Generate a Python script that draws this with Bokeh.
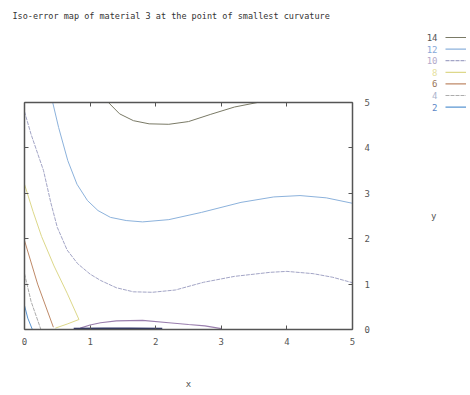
from bokeh.plotting import figure
from bokeh.models import LinearAxis, FixedTicker, Label, Arrow, Range1d
from bokeh.embed import file_html
from bokeh.resources import INLINE

title = "Iso-error map of material 3 at the point of smallest curvature"
ticks = [0, 1, 2, 3, 4, 5]
levels = [14, 12, 10, 8, 6, 4, 2]

# contour curves (x, y)
c14_x = [1.28, 1.45, 1.66, 1.9, 2.2, 2.5, 2.84, 3.2, 3.55]
c14_y = [5.0, 4.75, 4.6, 4.53, 4.52, 4.58, 4.74, 4.9, 5.0]
c12_x = [0.43, 0.52, 0.66, 0.8, 0.96, 1.12, 1.31, 1.55, 1.8, 2.2, 2.7, 3.3, 3.8, 4.2, 4.6, 5.0]
c12_y = [5.0, 4.45, 3.72, 3.2, 2.84, 2.62, 2.47, 2.4, 2.37, 2.42, 2.58, 2.8, 2.92, 2.95, 2.9, 2.78]
c10_x = [0.0, 0.1, 0.29, 0.4, 0.5, 0.65, 0.81, 1.0, 1.16, 1.4, 1.66, 1.95, 2.3, 2.73, 3.2, 3.75, 4.0, 4.4, 4.7, 5.0]
c10_y = [4.8, 4.3, 3.5, 2.8, 2.25, 1.75, 1.45, 1.22, 1.08, 0.92, 0.83, 0.82, 0.87, 1.04, 1.17, 1.26, 1.28, 1.23, 1.15, 1.03]
c10b_x = [0.85, 1.0, 1.16, 1.4, 1.8, 2.2, 2.5, 2.75, 3.0]
c10b_y = [0.03, 0.1, 0.15, 0.19, 0.2, 0.15, 0.11, 0.08, 0.02]
c8_x = [0.0, 0.13, 0.26, 0.45, 0.65, 0.83, 0.65, 0.47]
c8_y = [3.2, 2.6, 2.05, 1.4, 0.8, 0.22, 0.12, 0.03]
c6_x = [0.0, 0.2, 0.44]
c6_y = [1.96, 1.0, 0.05]
c4_x = [0.0, 0.1, 0.25]
c4_y = [1.23, 0.62, 0.0]
c2_x = [0.0, 0.05, 0.12]
c2_y = [0.53, 0.25, 0.0]
c2b_x = [0.75, 1.2, 1.6, 2.1]
c2b_y = [0.012, 0.02, 0.02, 0.012]

line_colors = {14: "#7a7a66", 12: "#8cb2dc", 10: "#a3a5c6", 8: "#ddd88a",
               6: "#bf8a68", 4: "#acacac", 2: "#5a96d2"}
label_colors = {14: "#555555", 12: "#86a8d8", 10: "#b3aacb", 8: "#e6dfa0",
                6: "#9a7458", 4: "#aab4cc", 2: "#5b86c6"}
dashes = {14: "solid", 12: "solid", 10: "4 1", 8: "solid", 6: "solid", 4: "4 1", 2: "solid"}

FONT = "DejaVu Sans Mono"
GRAY = "#555555"

# canvas geometry (px): plot box position inside the canvas
W, H = 466, 390
BOX_L, BOX_R, BOX_T, BOX_B = 24, 352, 102, 329
sx = (BOX_R - BOX_L) / 5.0
sy = (BOX_B - BOX_T) / 5.0
x_range = Range1d(-BOX_L / sx, (W - BOX_L) / sx)
y_range = Range1d((BOX_B - H) / sy, BOX_B / sy)

p = figure(width=W, height=H, x_range=x_range, y_range=y_range, title=None,
           min_border=0, x_axis_location=None, y_axis_location=None,
           output_backend="svg", toolbar_location=None)
p.grid.visible = False
p.outline_line_color = None
p.background_fill_color = "white"
p.border_fill_color = "white"

curves = [
    (c14_x, c14_y, 14), (c12_x, c12_y, 12), (c10_x, c10_y, 10),
    (c8_x, c8_y, 8), (c6_x, c6_y, 6), (c4_x, c4_y, 4), (c2_x, c2_y, 2),
]
for xs, ys, lv in curves:
    p.line(xs, ys, line_color=line_colors[lv], line_width=1.0, line_dash=dashes[lv])
p.line(c10b_x, c10b_y, line_color="#9a7fae", line_width=1.1)
p.line(c2b_x, c2b_y, line_color="#2e3566", line_width=2.2)


def make_axis(loc, show_labels=True):
    ax = LinearAxis(fixed_location=loc, bounds=(0, 5))
    ax.ticker = FixedTicker(ticks=ticks)
    ax.major_tick_in = 4
    ax.major_tick_out = 0
    ax.minor_tick_line_color = None
    ax.axis_line_color = GRAY
    ax.axis_line_width = 1.5
    ax.major_tick_line_color = GRAY
    ax.major_label_text_font = FONT
    ax.major_label_text_font_size = "9px"
    ax.major_label_text_color = GRAY
    ax.axis_label_text_font = FONT
    ax.axis_label_text_font_size = "9px"
    ax.axis_label_text_font_style = "normal"
    ax.axis_label_text_color = GRAY
    if not show_labels:
        ax.major_label_overrides = {t: "" for t in ticks}
        ax.major_label_standoff = 0
    return ax


xa = make_axis(0)
xa.major_label_standoff = 8
xa.axis_label = "x"
xa.axis_label_standoff = 31
p.add_layout(xa, "below")

ya = make_axis(5)
ya.major_label_standoff = 12
ya.axis_label = "y"
ya.axis_label_orientation = "horizontal"
ya.axis_label_standoff = 58
p.add_layout(ya, "right")

top_ax = make_axis(5, show_labels=False)
p.add_layout(top_ax, "above")
left_ax = make_axis(0, show_labels=False)
p.add_layout(left_ax, "left")

# title (screen px, origin bottom-left of canvas)
p.add_layout(Label(x=12, y=H - 15, x_units="screen", y_units="screen", text=title,
                   text_font=FONT, text_font_size="8.5px", text_color="#333333",
                   text_baseline="middle", text_align="left"))

# key: colored level numbers followed by line samples
key_y = [37, 48.6, 60.2, 71.8, 83.4, 95, 106.6]
for lv, ky in zip(levels, key_y):
    yy = H - ky
    p.add_layout(Label(x=437, y=yy, x_units="screen", y_units="screen", text=str(lv),
                       text_font=FONT, text_font_size="9px", text_color=label_colors[lv],
                       text_baseline="middle", text_align="right"))
    p.add_layout(Arrow(x_start=445, y_start=yy, x_end=W, y_end=yy,
                       start_units="screen", end_units="screen", start=None, end=None,
                       line_color=line_colors[lv], line_width=1.2, line_dash=dashes[lv]))

open("out.html", "w").write(file_html(p, INLINE))
